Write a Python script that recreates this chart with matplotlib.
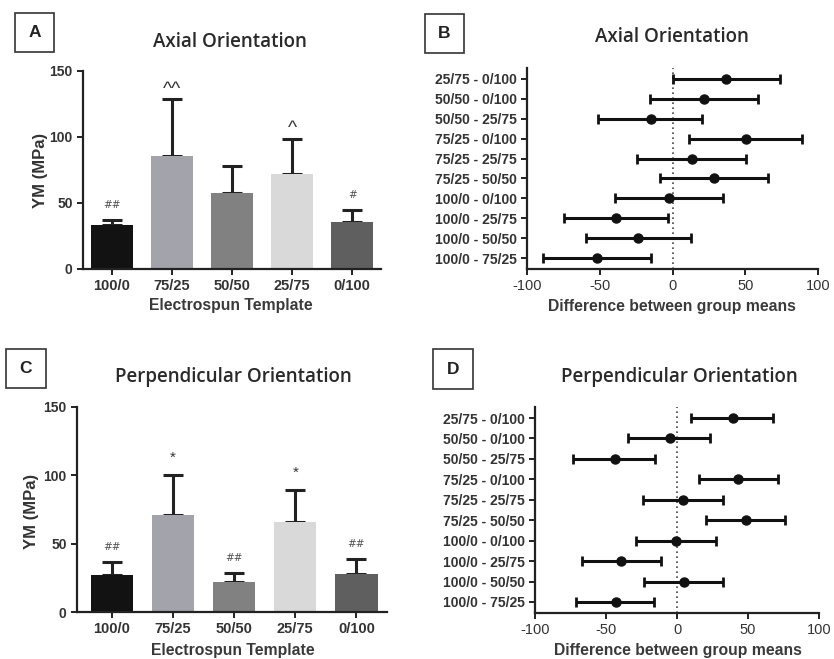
import numpy as np
import matplotlib
matplotlib.use('Agg')
import matplotlib.pyplot as plt
from matplotlib.patches import Rectangle

plt.rcParams['axes.unicode_minus'] = False

# datos
templates = ['100/0', '75/25', '50/50', '25/75', '0/100']
bar_colors = ['#121212', '#a3a3ab', '#818181', '#d9d9d9', '#5f5f5f']

axial_mean = [33.3, 85.6, 57.3, 72.2, 35.4]
axial_err = [3.6, 42.9, 21.0, 26.5, 9.1]
axial_marks = ['##', '^^', '', '^', '#']

perp_mean = [27.1, 70.7, 22.2, 66.1, 28.0]
perp_err = [9.5, 29.3, 6.3, 22.9, 11.0]
perp_marks = ['##', '*', '##', '*', '##']

pairs = ['25/75 - 0/100', '50/50 - 0/100', '50/50 - 25/75', '75/25 - 0/100',
         '75/25 - 25/75', '75/25 - 50/50', '100/0 - 0/100', '100/0 - 25/75',
         '100/0 - 50/50', '100/0 - 75/25']

axial_diff = [37.1, 21.5, -15.1, 50.4, 13.1, 28.4, -2.3, -38.9, -23.4, -52.0]
axial_lo = [0.0, -15.6, -51.1, 11.5, -24.1, -8.7, -39.2, -74.7, -59.6, -88.9]
axial_hi = [73.8, 58.9, 20.6, 88.7, 50.2, 65.7, 34.8, -3.0, 12.4, -15.1]

perp_diff = [39.3, -5.1, -43.9, 43.0, 4.4, 48.8, -0.7, -39.1, 4.9, -43.2]
perp_lo = [9.9, -34.5, -73.3, 15.3, -23.6, 20.3, -28.7, -67.1, -22.9, -71.0]
perp_hi = [67.7, 23.4, -15.5, 71.2, 32.4, 76.3, 27.3, -11.3, 32.6, -16.2]

W, H = 834, 659
fig = plt.figure(figsize=(W / 100, H / 100), dpi=100)
fig.patch.set_facecolor('white')

TICKFONT = 'Liberation Sans'
TITLEFONT = 'Open Sans'
TXT = '#222222'


def px_axes(l, t, r, b):
    return fig.add_axes([l / W, 1 - b / H, (r - l) / W, (b - t) / H])


def fig_text(x, y, s, **kw):
    fig.text(x / W, 1 - y / H, s, ha='center', va='center', **kw)


def panel_box(l, t, r, b, letter):
    fig.patches.append(Rectangle((l / W, 1 - b / H), (r - l) / W, (b - t) / H,
                                 transform=fig.transFigure, fill=False,
                                 edgecolor='#333333', linewidth=1.2))
    fig_text((l + r) / 2, (t + b) / 2, letter, fontsize=12.5, family=TICKFONT,
             fontweight='bold', color=TXT)


def style_axes(ax):
    for s in ['top', 'right']:
        ax.spines[s].set_visible(False)
    for s in ['left', 'bottom']:
        ax.spines[s].set_linewidth(1.6)
        ax.spines[s].set_color('#222222')
    ax.tick_params(direction='out', width=1.4, length=4, color='#222222')


def bar_panel(ax, means, errs, marks, xlim):
    x = np.arange(len(templates))
    ax.bar(x, means, width=0.69, color=bar_colors, zorder=2)
    ax.errorbar(x, means, yerr=[np.zeros(len(x)), errs], fmt='none',
                ecolor='#222222', elinewidth=2.2, capsize=7, capthick=2.2, zorder=1)
    for xi, m, e, s in zip(x, means, errs, marks):
        if not s:
            continue
        if s.startswith('#'):
            ax.annotate(s, (xi, m + e), xytext=(0, 8.5), textcoords='offset points',
                        ha='center', va='baseline', fontsize=7.5, style='italic',
                        color='#505050', family='DejaVu Sans')
        elif s.startswith('^'):
            ax.annotate(s, (xi, m + e), xytext=(0, 4), textcoords='offset points',
                        ha='center', va='baseline', fontsize=14,
                        color='#333333', family=TICKFONT)
        else:
            ax.annotate(s, (xi, m + e), xytext=(0, 9.5), textcoords='offset points',
                        ha='center', va='baseline', fontsize=11,
                        color='#333333', family=TICKFONT)
    ax.set_xlim(*xlim)
    ax.set_ylim(0, 150)
    ax.set_yticks([0, 50, 100, 150])
    ax.set_xticks(x)
    ax.set_xticklabels(templates)
    style_axes(ax)
    for lab in ax.get_xticklabels():
        lab.set_fontsize(10.5)
        lab.set_fontweight('bold')
        lab.set_family(TICKFONT)
        lab.set_color('#333333')
    for lab in ax.get_yticklabels():
        lab.set_fontsize(10)
        lab.set_fontweight('bold')
        lab.set_family(TICKFONT)
        lab.set_color('#333333')


def diff_panel(ax, diff, lo, hi):
    y = np.arange(len(pairs))
    d = np.array(diff)
    ax.errorbar(d, y, xerr=[d - np.array(lo), np.array(hi) - d], fmt='o',
                color='#111111', markersize=6.5, elinewidth=2.2, capsize=3.5,
                capthick=2.0)
    ax.axvline(0, color='#444444', linestyle=(0, (1, 2)), linewidth=1.2, zorder=0)
    ax.set_ylim(len(pairs) - 0.46, -0.54)
    ax.set_xlim(-100, 100)
    ax.set_xticks([-100, -50, 0, 50, 100])
    ax.set_yticks(y)
    ax.set_yticklabels(pairs)
    style_axes(ax)
    for lab in ax.get_yticklabels():
        lab.set_fontsize(10)
        lab.set_fontweight('bold')
        lab.set_family(TICKFONT)
        lab.set_color('#333333')
    for lab in ax.get_xticklabels():
        lab.set_fontsize(10.5)
        lab.set_family(TICKFONT)
        lab.set_color('#333333')


# panel A
axA = px_axes(83, 71, 381, 269)
bar_panel(axA, axial_mean, axial_err, axial_marks, (-0.48, 4.48))
# panel B
axB = px_axes(527, 68, 818, 269)
diff_panel(axB, axial_diff, axial_lo, axial_hi)
# panel C
axC = px_axes(77, 407, 387, 612)
bar_panel(axC, perp_mean, perp_err, perp_marks, (-0.57, 4.5))
# panel D
axD = px_axes(535, 407, 819, 613)
diff_panel(axD, perp_diff, perp_lo, perp_hi)

# cajas con letras
panel_box(15, 13, 54, 52, 'A')
panel_box(425, 14, 464, 53, 'B')
panel_box(6, 349, 46, 388, 'C')
panel_box(433, 349, 473, 389, 'D')

# titulos
title_kw = dict(fontsize=13.5, family=TITLEFONT, fontweight='semibold', color='#2a2a2a')
fig_text(230, 42, 'Axial Orientation', **title_kw)
fig_text(672, 37, 'Axial Orientation', **title_kw)
fig_text(233, 377, 'Perpendicular Orientation', **title_kw)
fig_text(679, 377, 'Perpendicular Orientation', **title_kw)

# etiquetas de ejes
lab_kw = dict(fontsize=11.3, family=TICKFONT, fontweight='bold', color='#3a3a3a')
fig_text(231, 306, 'Electrospun Template', **lab_kw)
fig_text(233, 651, 'Electrospun Template', **lab_kw)
fig_text(672, 307, 'Difference between group means', **lab_kw)
fig_text(678, 651, 'Difference between group means', **lab_kw)
fig_text(40, 170, 'YM (MPa)', rotation=90, fontsize=12, family=TICKFONT,
         fontweight='bold', color='#333333')
fig_text(32, 511, 'YM (MPa)', rotation=90, fontsize=12, family=TICKFONT,
         fontweight='bold', color='#333333')

fig.savefig('out.png', dpi=100)
